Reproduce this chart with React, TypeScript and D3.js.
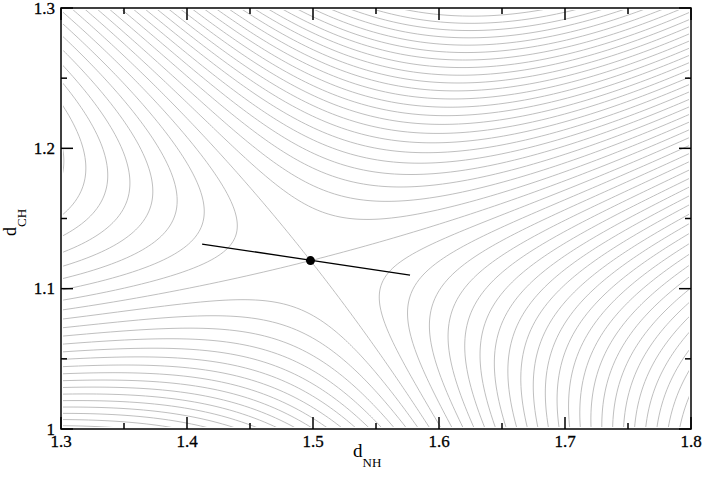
import { useEffect, useRef } from "react";
import * as d3 from "d3";

const xDomain = [1.3, 1.8];
const yDomain = [1, 1.3];
const xTicks = [1.3, 1.4, 1.5, 1.6, 1.7, 1.8];
const xMinorTicks = [1.35, 1.45, 1.55, 1.65, 1.75];
const yTicks = [1, 1.1, 1.2, 1.3];
const yMinorTicks = [1.05, 1.15, 1.25];

// saddle point and the short reaction path through it
const saddle = [1.498, 1.12];
const pathNH = [1.412, 1.577];
const pathCH = [1.1318, 1.1097];

// surface near the saddle: coefficients of u^2, uv, v^2, u^3, uv^2 (u, v in 0.1 units)
const surfaceCoef = [0.26, -0.9125, -1, 0.03, 0.1];
const surfaceDamp = 0.055;
const surfaceUnit = 0.1;
const levelStep = 0.145;
const levelCount = 50;

const W = 705;
const H = 478;
const plot = { left: 61, right: 691, top: 8, bottom: 429 };

const field = (nh: number, ch: number) => {
  const u = (nh - saddle[0]) / surfaceUnit;
  const v = (ch - saddle[1]) / surfaceUnit;
  const [a, b, c, d, e] = surfaceCoef;
  const f = a * u * u + b * u * v + c * v * v + d * u * u * u + e * u * v * v;
  return f / (1 + surfaceDamp * (u * u + v * v));
};

const fmt = (d: number) => String(+d.toFixed(2));

export default function App() {
  const ref = useRef<SVGSVGElement>(null);

  useEffect(() => {
    const x = d3.scaleLinear().domain(xDomain).range([plot.left, plot.right]);
    const y = d3.scaleLinear().domain(yDomain).range([plot.bottom, plot.top]);

    const svg = d3.select(ref.current);
    svg.selectAll("*").remove();

    // sample the surface on a grid a bit larger than the plot
    const step = 2;
    const gx0 = plot.left - 10;
    const gy0 = plot.top - 10;
    const nx = Math.ceil((plot.right - plot.left + 20) / step) + 1;
    const ny = Math.ceil((plot.bottom - plot.top + 20) / step) + 1;
    const values = new Array(nx * ny);
    for (let j = 0; j < ny; j++) {
      for (let i = 0; i < nx; i++) {
        values[j * nx + i] = field(x.invert(gx0 + i * step), y.invert(gy0 + j * step));
      }
    }
    const levels = d3.range(-levelCount, levelCount + 1).map((k) => k * levelStep);
    const contours = d3.contours().size([nx, ny]).thresholds(levels)(values);
    const path = d3.geoPath(
      d3.geoIdentity().scale(step).translate([gx0 - step / 2, gy0 - step / 2])
    );

    svg.append("clipPath")
      .attr("id", "plot-clip")
      .append("rect")
      .attr("x", plot.left + 2)
      .attr("y", plot.top + 2)
      .attr("width", plot.right - plot.left - 4)
      .attr("height", plot.bottom - plot.top - 4);

    svg.append("g")
      .attr("clip-path", "url(#plot-clip)")
      .selectAll("path")
      .data(contours)
      .join("path")
      .attr("d", (d) => path(d as any))
      .attr("fill", "none")
      .attr("stroke", "#b8b8b8")
      .attr("stroke-width", 0.9);

    // reaction path and saddle
    svg.append("line")
      .attr("x1", x(pathNH[0]))
      .attr("y1", y(pathCH[0]))
      .attr("x2", x(pathNH[1]))
      .attr("y2", y(pathCH[1]))
      .attr("stroke", "#000")
      .attr("stroke-width", 1.3);
    svg.append("circle")
      .attr("cx", x(saddle[0]))
      .attr("cy", y(saddle[1]))
      .attr("r", 4.5)
      .attr("fill", "#000");

    // frame
    svg.append("rect")
      .attr("x", plot.left)
      .attr("y", plot.top)
      .attr("width", plot.right - plot.left)
      .attr("height", plot.bottom - plot.top)
      .attr("fill", "none")
      .attr("stroke", "#000")
      .attr("stroke-width", 1.5);

    const ticks = svg.append("g").attr("stroke", "#000").attr("stroke-width", 1.5);
    const xt = [...xTicks.map((t) => [t, 12]), ...xMinorTicks.map((t) => [t, 6])];
    ticks.selectAll(".xb").data(xt).join("line")
      .attr("x1", (d) => x(d[0])).attr("x2", (d) => x(d[0]))
      .attr("y1", plot.bottom).attr("y2", (d) => plot.bottom - d[1]);
    ticks.selectAll(".xt").data(xt).join("line")
      .attr("x1", (d) => x(d[0])).attr("x2", (d) => x(d[0]))
      .attr("y1", plot.top).attr("y2", (d) => plot.top + d[1]);
    const yt = [...yTicks.map((t) => [t, 12]), ...yMinorTicks.map((t) => [t, 6])];
    ticks.selectAll(".yl").data(yt).join("line")
      .attr("y1", (d) => y(d[0])).attr("y2", (d) => y(d[0]))
      .attr("x1", plot.left).attr("x2", (d) => plot.left + d[1]);
    ticks.selectAll(".yr").data(yt).join("line")
      .attr("y1", (d) => y(d[0])).attr("y2", (d) => y(d[0]))
      .attr("x1", plot.right).attr("x2", (d) => plot.right - d[1]);

    const font = "Liberation Serif, Times New Roman, Times, DejaVu Serif, serif";

    svg.append("g")
      .style("font-family", font)
      .attr("font-size", 17)
      .attr("stroke", "#000")
      .attr("stroke-width", 0.3)
      .attr("text-anchor", "middle")
      .selectAll("text")
      .data(xTicks)
      .join("text")
      .attr("x", (d) => x(d))
      .attr("y", 447)
      .text(fmt);

    svg.append("g")
      .style("font-family", font)
      .attr("font-size", 17)
      .attr("stroke", "#000")
      .attr("stroke-width", 0.3)
      .attr("text-anchor", "end")
      .selectAll("text")
      .data(yTicks)
      .join("text")
      .attr("x", 55)
      .attr("y", (d) => y(d) + 5.5)
      .text(fmt);

    const xTitle = svg.append("text")
      .style("font-family", font)
      .attr("font-size", 19)
      .attr("x", 353)
      .attr("y", 457);
    xTitle.append("tspan").text("d");
    xTitle.append("tspan").attr("font-size", 13).attr("dy", 10).text("NH");

    const yTitle = svg.append("text")
      .style("font-family", font)
      .attr("font-size", 18)
      .attr("transform", "translate(16,236) rotate(-90)");
    yTitle.append("tspan").text("d");
    yTitle.append("tspan").attr("font-size", 13).attr("dy", 10).text("CH");
  }, []);

  return (
    <svg
      ref={ref}
      width={W}
      height={H}
      style={{ position: "absolute", left: 0, top: 0, background: "#fff" }}
    />
  );
}
